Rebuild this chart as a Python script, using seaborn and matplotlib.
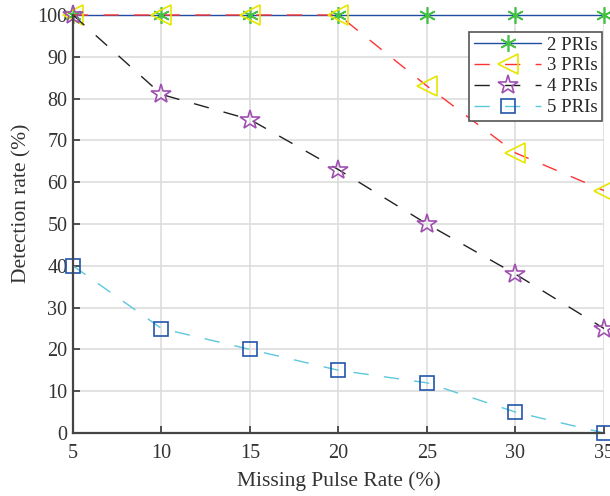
import matplotlib
matplotlib.use("Agg")
import matplotlib.pyplot as plt
import seaborn as sns
import pandas as pd

x = [5, 10, 15, 20, 25, 30, 35]
pri2 = [100, 100, 100, 100, 100, 100, 100]
pri3 = [100, 100, 100, 100, 83, 67, 58]
pri4 = [100, 81, 75, 63, 50, 38, 25]
pri5 = [40, 25, 20, 15, 12, 5, 0]
labels = ["2 PRIs", "3 PRIs", "4 PRIs", "5 PRIs"]

sns.set_style("ticks")
plt.rcParams['font.family'] = ['Liberation Serif', 'DejaVu Serif']
plt.rcParams['xtick.direction'] = 'in'
plt.rcParams['ytick.direction'] = 'in'

fig = plt.figure(figsize=(6.1, 4.96), dpi=100)
ax = fig.add_axes([73/610, 63/496, 531/610, 418/496])

styles = [
    dict(color="#1f4ea0", marker="*", mec="#44c044", ms=12, dashes=None),
    dict(color="#ff3333", marker="<", mec="#e6e600", ms=14, dashes=(11, 11)),
    dict(color="#222222", marker="*", mec="#a050b0", ms=15, dashes=(11, 11)),
    dict(color="#5bc8dc", marker="s", mec="#2255aa", ms=10, dashes=(11, 11)),
]
series = [pri2, pri3, pri4, pri5]
for ys, lab, st in zip(series, labels, styles):
    df = pd.DataFrame({"x": x, "y": ys})
    sns.lineplot(data=df, x="x", y="y", color=st["color"], marker=st["marker"],
                 markersize=st["ms"], markeredgecolor=st["mec"],
                 markerfacecolor="none", markeredgewidth=1.2, linewidth=1.0,
                 label=lab, ax=ax)
ax.lines[0].set_marker((6, 2, 0))
for ln, st in zip(ax.lines, styles):
    ln.set_markeredgecolor(st["mec"])
    ln.set_markerfacecolor("none")
    if st["dashes"]:
        ln.set_dashes(st["dashes"])
    ln.set_clip_on(False)

ax.set_xlim(5, 35)
ax.set_ylim(0, 100)
ax.set_xticks(range(5, 36, 5))
ax.set_yticks(range(0, 101, 10))
ax.grid(True, color="#dddddd", linewidth=1.2)
ax.set_axisbelow(True)
for s in ["left", "bottom"]:
    ax.spines[s].set_color("#444444")
    ax.spines[s].set_linewidth(1.6)
ax.spines["top"].set_visible(False)
ax.spines["right"].set_visible(False)
ax.tick_params(colors="#444444", labelcolor="#333333", labelsize=14.5,
               length=5, width=1.3)
ax.tick_params(axis="x", pad=8)
ax.tick_params(axis="y", pad=4)
ax.set_xlabel("Missing Pulse Rate (%)", fontsize=15.5, color="#333333", labelpad=6)
ax.set_ylabel("Detection rate (%)", fontsize=15.5, color="#333333")
ax.yaxis.set_label_coords(-0.078, 0.55)

handles, labs = ax.get_legend_handles_labels()
leg = ax.legend(handles, labs, loc="upper right", bbox_to_anchor=(0.997, 0.96),
                fontsize=13.5, frameon=True, fancybox=False, edgecolor="#555555",
                framealpha=1, handlelength=3.6, borderpad=0.25, labelspacing=0.2,
                handletextpad=0.3, borderaxespad=0.0)
leg.get_frame().set_linewidth(1.2)

fig.savefig("out.png", dpi=100)
